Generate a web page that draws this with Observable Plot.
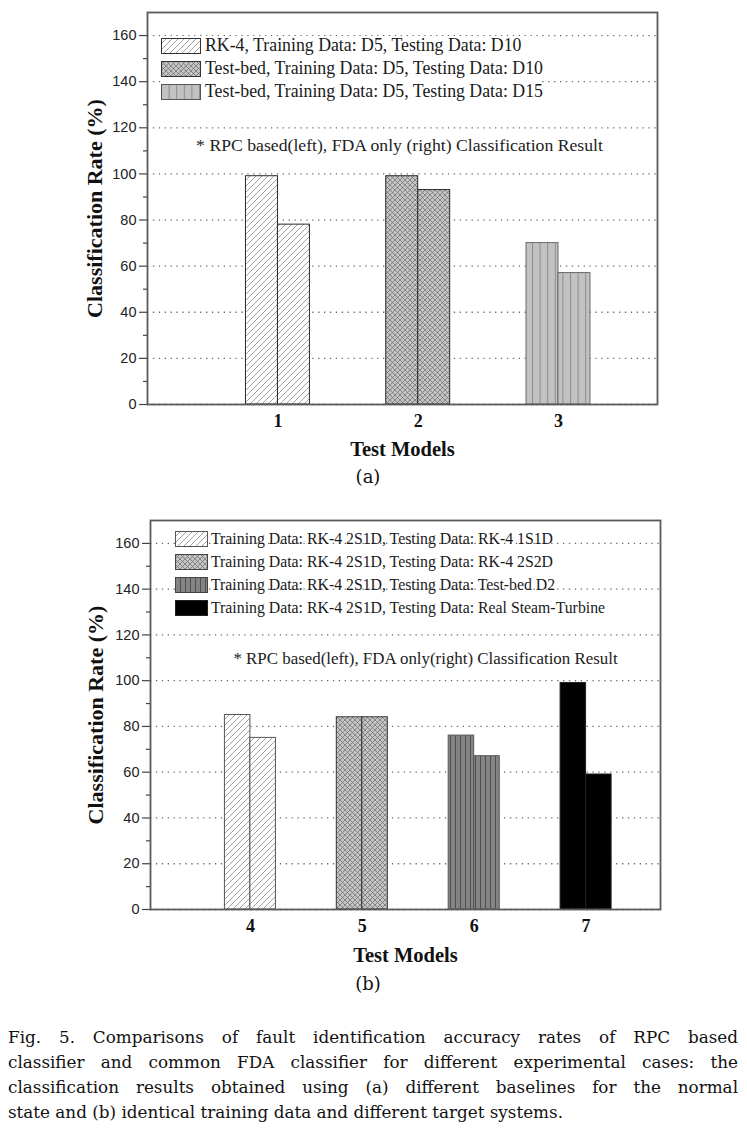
<!DOCTYPE html>
<html>
<head>
<meta charset="utf-8">
<script src="https://cdn.jsdelivr.net/npm/d3@7"></script>
<script src="https://cdn.jsdelivr.net/npm/@observablehq/plot@0.6"></script>
<style>
  html, body { margin: 0; padding: 0; background: #fff; }
  body { width: 747px; height: 1132px; position: relative; overflow: hidden; font-family: "Liberation Serif", serif; color: #1a1a1a; }
  .abs { position: absolute; }
  .legend-row { position: absolute; display: flex; align-items: center; white-space: nowrap; }
  .legend-row svg { display: block; flex: none; }
  .panel-label { position: absolute; width: 60px; text-align: center; font-family: "DejaVu Serif", serif; font-size: 18px; line-height: 24px; color: #111; }
  .caption { position: absolute; left: 8px; top: 1025px; width: 730px; font-family: "DejaVu Serif", serif; font-size: 16.8px; line-height: 25px; color: #111; }
  .caption div { text-align: justify; text-align-last: justify; white-space: nowrap; }
  .caption div.last { text-align-last: left; }
</style>
</head>
<body>
<svg width="0" height="0" style="position:absolute">
  <defs>
    <pattern id="pDiag" patternUnits="userSpaceOnUse" width="6" height="6">
      <rect width="6" height="6" fill="#ffffff"/>
      <path d="M-1.5,7.5 L7.5,-1.5 M-1.5,1.5 L1.5,-1.5 M4.5,7.5 L7.5,4.5" stroke="#8a8a8a" stroke-width="0.8"/>
    </pattern>
    <pattern id="pCross" patternUnits="userSpaceOnUse" width="5" height="5">
      <rect width="5" height="5" fill="#c4c4c4"/>
      <path d="M0,0 L5,5 M5,0 L0,5" stroke="#6a6a6a" stroke-width="0.7"/>
    </pattern>
    <pattern id="pVertLight" patternUnits="userSpaceOnUse" width="7.6" height="8">
      <rect width="7.6" height="8" fill="#c2c2c2"/>
      <path d="M0.5,0 L0.5,8" stroke="#8c8c8c" stroke-width="1"/>
    </pattern>
    <pattern id="pVertDark" patternUnits="userSpaceOnUse" width="5" height="8">
      <rect width="5" height="8" fill="#848484"/>
      <path d="M0.5,0 L0.5,8" stroke="#4a4a4a" stroke-width="0.9"/>
    </pattern>
  </defs>
</svg>

<div id="chartA" class="abs" style="left:0;top:0"></div>
<div id="chartB" class="abs" style="left:0;top:500px"></div>
<div id="legendA"></div>
<div id="legendB"></div>

<div class="panel-label" style="left:338px;top:465px">(a)</div>
<div class="panel-label" style="left:338px;top:972px">(b)</div>

<div class="caption">
  <div>Fig. 5. Comparisons of fault identification accuracy rates of RPC based</div>
  <div>classifier and common FDA classifier for different experimental cases: the</div>
  <div>classification results obtained using (a) different baselines for the normal</div>
  <div class="last">state and (b) identical training data and different target systems.</div>
</div>

<script>
// ---------- data ----------
const modelsA = [1, 2, 3];
const rpcA = [99, 99, 70];   // RPC based (left bar)
const fdaA = [78, 93, 57];   // FDA only (right bar)
const seriesA = [
  "RK-4, Training Data: D5, Testing Data: D10",
  "Test-bed, Training Data: D5, Testing Data: D10",
  "Test-bed, Training Data: D5, Testing Data: D15"
];
const noteA = "* RPC based(left), FDA only (right) Classification Result";

const modelsB = [4, 5, 6, 7];
const rpcB = [85, 84, 76, 99];
const fdaB = [75, 84, 67, 59];
const seriesB = [
  "Training Data: RK-4 2S1D, Testing Data: RK-4 1S1D",
  "Training Data: RK-4 2S1D, Testing Data: RK-4 2S2D",
  "Training Data: RK-4 2S1D, Testing Data: Test-bed D2",
  "Training Data: RK-4 2S1D, Testing Data: Real Steam-Turbine"
];
const noteB = "* RPC based(left), FDA only(right) Classification Result";

const yTicks = [0, 20, 40, 60, 80, 100, 120, 140, 160];
const yMinorTicks = [10, 30, 50, 70, 90, 110, 130, 150];
const xLabel = "Test Models";
const yLabel = "Classification Rate (%)";

// ---------- styles ----------
const fillsA = ["url(#pDiag)", "url(#pCross)", "url(#pVertLight)"];
const strokesA = ["#2a2a2a", "#2a2a2a", "#6a6a6a"];
const fillsB = ["url(#pDiag)", "url(#pCross)", "url(#pVertDark)", "#000000"];
const strokesB = ["#555555", "#333333", "#555555", "#222222"];
const barW = 0.228;

function rowsFor(models, rpc, fda) {
  return models.map((m, i) => [
    {model: m, side: "RPC", value: rpc[i]},
    {model: m, side: "FDA", value: fda[i]}
  ]);
}

function makeChart({models, rpc, fda, fills, strokes, xDomain, marginLeft, marginRight, marginTop, height, note, noteDx, noteDy, noteSize, yLabelDx, xLabelDy}) {
  const groups = rowsFor(models, rpc, fda);
  const barMarks = groups.map((rows, i) => Plot.rect(rows, {
    x1: d => d.side === "RPC" ? d.model - barW : d.model,
    x2: d => d.side === "RPC" ? d.model : d.model + barW,
    y1: 0,
    y2: "value",
    fill: fills[i],
    stroke: strokes[i],
    strokeWidth: 1
  }));
  return Plot.plot({
    width: 747,
    height,
    marginLeft,
    marginRight,
    marginTop,
    marginBottom: 60,
    style: {background: "transparent", overflow: "visible"},
    x: {domain: xDomain},
    y: {domain: [0, 170]},
    marks: [
      Plot.gridY(yTicks, {stroke: "#6a6a6a", strokeOpacity: 1, strokeWidth: 1.3, strokeDasharray: "1.3,4.6"}),
      ...barMarks,
      Plot.axisY({ticks: yTicks, tickSize: 8, tickPadding: 3, fontSize: 14.5, fontFamily: "Liberation Sans, Arial, sans-serif", fill: "#222", stroke: "#444", strokeWidth: 1.2, label: null, tickFormat: d => String(d)}),
      Plot.axisY({ticks: yMinorTicks, tickSize: 4, text: null, stroke: "#444", strokeWidth: 1.2, label: null}),
      Plot.axisX({ticks: models, tickSize: 0, tickPadding: 10, fontSize: 18, fontWeight: "bold", fontFamily: "Liberation Serif, serif", fill: "#111", label: null, tickFormat: d => String(d)}),
      Plot.text([xLabel], {frameAnchor: "bottom", dy: xLabelDy, fontSize: 20.5, fontWeight: "bold", fontFamily: "Liberation Serif, serif", fill: "#111", lineAnchor: "middle", textAnchor: "middle"}),
      Plot.text([yLabel], {frameAnchor: "left", dx: yLabelDx, rotate: -90, fontSize: 22, fontWeight: "bold", fontFamily: "Liberation Serif, serif", fill: "#111", lineAnchor: "middle", textAnchor: "middle"}),
      Plot.text([note], {frameAnchor: "top", dx: noteDx, dy: noteDy, fontSize: noteSize, fontFamily: "Liberation Serif, serif", fill: "#222", lineAnchor: "middle", textAnchor: "middle"}),
      Plot.frame({stroke: "#5a5a5a", strokeWidth: 1.8})
    ]
  });
}

const chartA = makeChart({
  models: modelsA, rpc: rpcA, fda: fdaA, fills: fillsA, strokes: strokesA,
  xDomain: [0.07, 3.706], marginLeft: 147, marginRight: 90, marginTop: 12, height: 464,
  note: noteA, noteDx: -3, noteDy: 133, noteSize: 17.7, yLabelDx: -53, xLabelDy: 45
});
document.getElementById("chartA").appendChild(chartA);

const chartB = makeChart({
  models: modelsB, rpc: rpcB, fda: fdaB, fills: fillsB, strokes: strokesB,
  xDomain: [3.107, 7.665], marginLeft: 150, marginRight: 87, marginTop: 20, height: 469,
  note: noteB, noteDx: 20, noteDy: 138, noteSize: 16.9, yLabelDx: -55, xLabelDy: 46
});
document.getElementById("chartB").appendChild(chartB);

// ---------- legends ----------
function buildLegend(containerId, items, fills, strokes, opts) {
  const box = document.getElementById(containerId);
  box.style.position = "absolute";
  box.style.left = opts.left + "px";
  box.style.top = opts.top + "px";
  box.style.width = opts.width + "px";
  box.style.height = opts.height + "px";
  if (opts.background) box.style.background = opts.background;
  items.forEach((label, i) => {
    const row = document.createElement("div");
    row.className = "legend-row";
    row.style.left = "0px";
    row.style.top = (opts.firstRow + i * opts.rowStep - opts.rowH / 2) + "px";
    row.style.height = opts.rowH + "px";
    row.innerHTML = `<svg width="${opts.swW}" height="${opts.swH}"><rect x="0.5" y="0.5" width="${opts.swW - 1}" height="${opts.swH - 1}" fill="${fills[i]}" stroke="${strokes[i]}" stroke-width="1"/></svg>` +
      `<span style="margin-left:${opts.gap}px;font-family:'Liberation Serif',serif;font-size:${opts.fontSize}px;color:#1a1a1a;line-height:1">${label}</span>`;
    box.appendChild(row);
  });
}

buildLegend("legendA", seriesA, fillsA, ["#333", "#333", "#555"], {
  left: 161, top: 36, width: 380, height: 64, background: "#fff",
  firstRow: 9.5, rowStep: 23, rowH: 20, swW: 40, swH: 16, gap: 4, fontSize: 17.8
});
buildLegend("legendB", seriesB, fillsB, ["#555", "#444", "#444", "#222"], {
  left: 175, top: 528, width: 460, height: 92,
  firstRow: 10.5, rowStep: 23.3, rowH: 20, swW: 33, swH: 16, gap: 3, fontSize: 15.8
});
</script>
</body>
</html>
